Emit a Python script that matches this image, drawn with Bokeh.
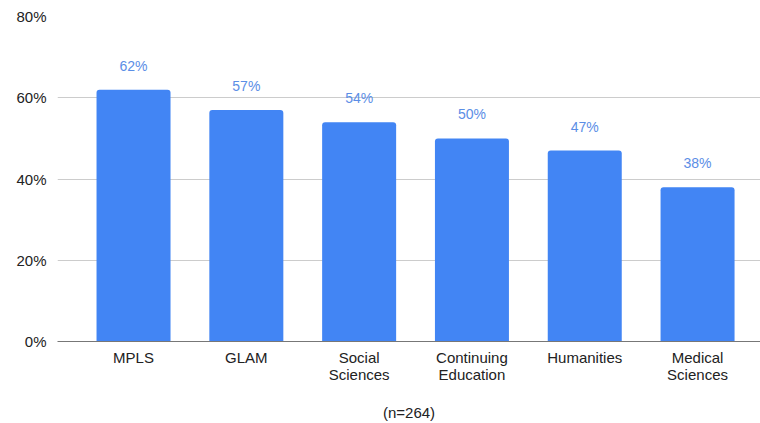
from bokeh.plotting import figure
from bokeh.models import ColumnDataSource, FixedTicker, Range1d
from bokeh.embed import file_html
from bokeh.resources import INLINE
from bokeh.core.properties import value

# Share of respondents per division
categories = ["MPLS", "GLAM", "Social\nSciences", "Continuing\nEducation", "Humanities", "Medical\nSciences"]
shares = [62, 57, 54, 50, 47, 38]
y_ticks = [0, 20, 40, 60, 80]
y_tick_labels = ["0%", "20%", "40%", "60%", "80%"]
note = "(n=264)"

BAR = "#4285f4"
LABEL = "#5b8ee6"
TEXT = "#222222"
FONT = "Liberation Sans"

xs = list(range(len(categories)))
src = ColumnDataSource(dict(x=xs, top=shares, label=[f"{v}%" for v in shares]))

p = figure(width=760, height=423, output_backend="svg", toolbar_location=None,
           x_range=Range1d(-0.674, 5.558), y_range=Range1d(0, 80),
           min_border_left=57, min_border_right=0, min_border_top=16, min_border_bottom=82)
p.outline_line_color = None
p.background_fill_color = "white"
p.border_fill_color = "white"

p.vbar(x="x", top="top", width=0.656, source=src, color=BAR, line_color=None,
       border_radius=(3, 3, 0, 0))
p.text(x="x", y="top", text="label", source=src, text_align="center", text_baseline="middle",
       y_offset=-24, text_color=LABEL, text_font=value(FONT), text_font_size="14px")

# y axis: percentage labels only
p.yaxis.ticker = FixedTicker(ticks=y_ticks)
p.yaxis.major_label_overrides = {t: l for t, l in zip(y_ticks, y_tick_labels)}
p.yaxis.axis_line_color = None
p.yaxis.major_tick_line_color = None
p.yaxis.minor_tick_line_color = None
p.yaxis.major_label_standoff = 5
p.yaxis.major_label_text_font = FONT
p.yaxis.major_label_text_font_size = "15px"
p.yaxis.major_label_text_color = TEXT

# x axis: category names and sample size note
p.xaxis.ticker = FixedTicker(ticks=xs)
p.xaxis.major_label_overrides = {i: c for i, c in zip(xs, categories)}
p.xaxis.axis_line_color = "#777777"
p.xaxis.axis_line_width = 1.2
p.xaxis.major_tick_line_color = None
p.xaxis.minor_tick_line_color = None
p.xaxis.major_label_standoff = 1
p.xaxis.major_label_text_font = FONT
p.xaxis.major_label_text_font_size = "15px"
p.xaxis.major_label_text_line_height = 1.0
p.xaxis.major_label_text_color = TEXT
p.xaxis.axis_label = note
p.xaxis.axis_label_text_font = FONT
p.xaxis.axis_label_text_font_size = "15px"
p.xaxis.axis_label_text_font_style = "normal"
p.xaxis.axis_label_text_color = TEXT
p.xaxis.axis_label_standoff = 18

p.xgrid.grid_line_color = None
p.ygrid.ticker = FixedTicker(ticks=y_ticks)
p.ygrid.grid_line_color = "#cccccc"

open("out.html", "w").write(file_html(p, INLINE))
